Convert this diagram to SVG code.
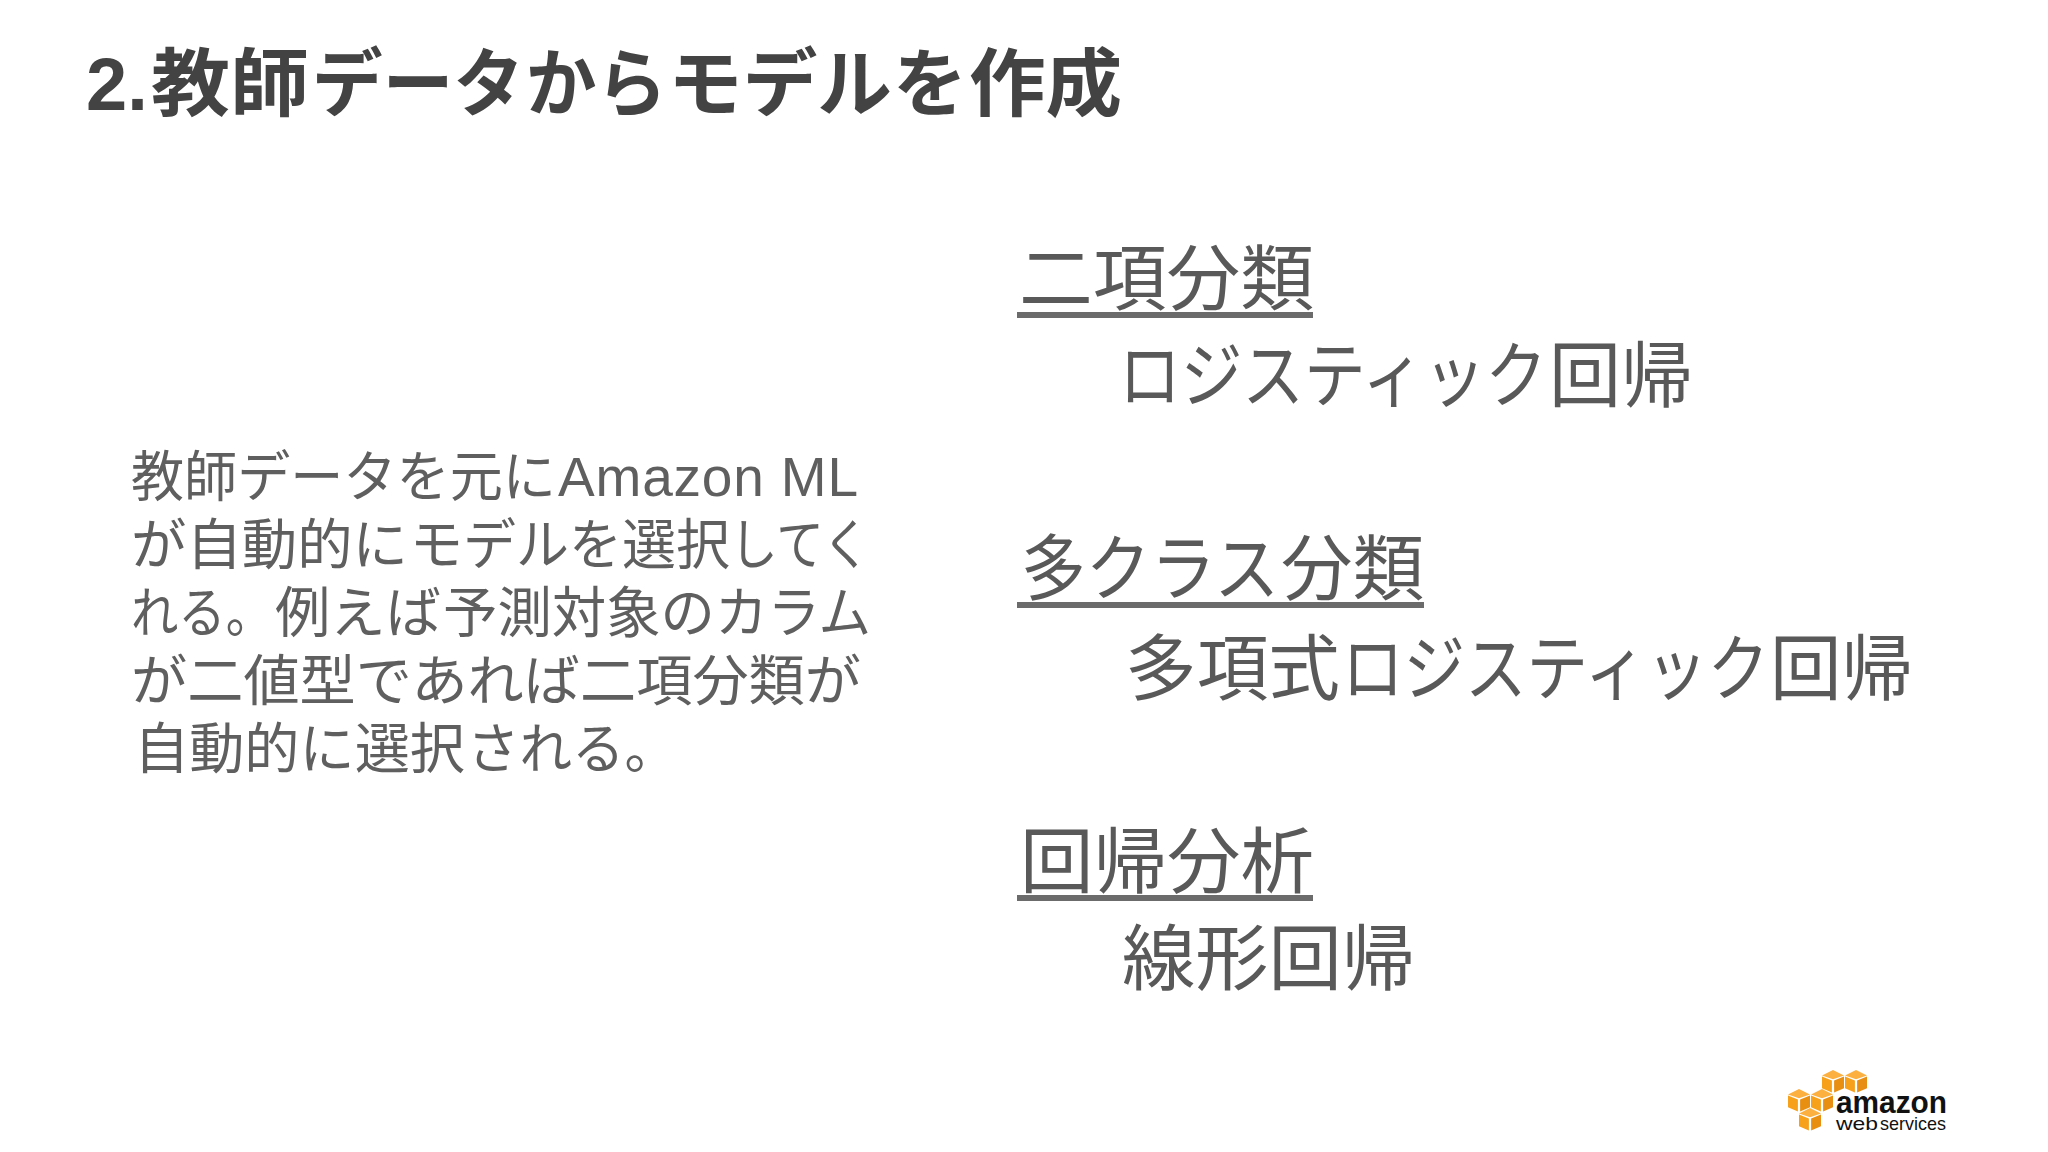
<svg xmlns="http://www.w3.org/2000/svg" width="2048" height="1152" viewBox="0 0 2048 1152">
<defs>
<style>
text{font-family:"Liberation Sans","Noto Sans CJK JP",sans-serif}
.title{font-size:74px;font-weight:700;fill:#434343}
.body{font-size:55px;fill:#5f5f5f}
.big{font-size:72px;fill:#595959}
.rule{fill:#6b6b6b}
.c1{fill:#f7a11a}.c2{fill:#fbb040}.c3{fill:#e88f12}
</style>
<g id="cube">
<polygon class="c2" points="0,10 20,0 40,10 20,17"/>
<polygon class="c1" points="0,12 18,19 18,41 0,33"/>
<polygon class="c3" points="22,19 40,12 40,33 22,41"/>
</g>
</defs>
<rect width="2048" height="1152" fill="#fff"/>
<text class="title" y="110"><tspan x="86">2.</tspan><tspan x="151" textLength="158" lengthAdjust="spacingAndGlyphs">教師</tspan><tspan x="312" textLength="212" lengthAdjust="spacingAndGlyphs">データ</tspan><tspan x="526" textLength="141" lengthAdjust="spacingAndGlyphs">から</tspan><tspan x="668" textLength="224" lengthAdjust="spacingAndGlyphs">モデル</tspan><tspan x="893" textLength="75">を</tspan><tspan x="969" textLength="153" lengthAdjust="spacingAndGlyphs">作成</tspan></text>
<g id="body-text">
<text class="body" y="496"><tspan x="131" textLength="425" lengthAdjust="spacingAndGlyphs">教師データを元に</tspan><tspan x="558" textLength="300">Amazon ML</tspan></text>
<text class="body" y="564"><tspan x="131" textLength="277" lengthAdjust="spacingAndGlyphs">が自動的に</tspan><tspan x="410" textLength="212" lengthAdjust="spacingAndGlyphs">モデルを</tspan><tspan x="622" textLength="108" lengthAdjust="spacingAndGlyphs">選択</tspan><tspan x="730" textLength="140" lengthAdjust="spacingAndGlyphs">してく</tspan></text>
<text class="body" y="632"><tspan x="131" textLength="142" lengthAdjust="spacingAndGlyphs">れる。</tspan><tspan x="275" textLength="166" lengthAdjust="spacingAndGlyphs">例えば</tspan><tspan x="443" textLength="272" lengthAdjust="spacingAndGlyphs">予測対象の</tspan><tspan x="715" textLength="156" lengthAdjust="spacingAndGlyphs">カラム</tspan></text>
<text class="body" x="131" y="700" textLength="730" lengthAdjust="spacingAndGlyphs">が二値型であれば二項分類が</text>
<text class="body" y="768"><tspan x="134" textLength="331" lengthAdjust="spacingAndGlyphs">自動的に選択</tspan><tspan x="467" textLength="210" lengthAdjust="spacingAndGlyphs">される。</tspan></text>
</g>
<g id="binary">
<text class="big" x="1019" y="304" textLength="295" lengthAdjust="spacingAndGlyphs">二項分類</text>
<rect class="rule" x="1017" y="312" width="296" height="6"/>
<text class="big" y="401"><tspan x="1119" textLength="428" lengthAdjust="spacingAndGlyphs">ロジスティック</tspan><tspan x="1549" textLength="144" lengthAdjust="spacingAndGlyphs">回帰</tspan></text>
</g>
<g id="multi">
<text class="big" y="594"><tspan x="1021" textLength="258" lengthAdjust="spacingAndGlyphs">多クラス</tspan><tspan x="1281" textLength="143" lengthAdjust="spacingAndGlyphs">分類</tspan></text>
<rect class="rule" x="1017" y="602" width="407" height="6"/>
<text class="big" y="694"><tspan x="1125" textLength="215" lengthAdjust="spacingAndGlyphs">多項式</tspan><tspan x="1342" textLength="427" lengthAdjust="spacingAndGlyphs">ロジスティック</tspan><tspan x="1770" textLength="143" lengthAdjust="spacingAndGlyphs">回帰</tspan></text>
</g>
<g id="regression">
<text class="big" x="1020" y="887" textLength="294" lengthAdjust="spacingAndGlyphs">回帰分析</text>
<rect class="rule" x="1017" y="895" width="296" height="6"/>
<text class="big" x="1122" y="984" textLength="293" lengthAdjust="spacingAndGlyphs">線形回帰</text>
</g>
<g id="logo">
<use href="#cube" transform="translate(1822,1070) scale(.55)"/>
<use href="#cube" transform="translate(1845,1070) scale(.55)"/>
<use href="#cube" transform="translate(1788,1089) scale(.55)"/>
<use href="#cube" transform="translate(1811,1089) scale(.55)"/>
<use href="#cube" transform="translate(1799,1108) scale(.55)"/>
<text x="1836" y="1113" font-size="32" font-weight="700" fill="#111" textLength="111" lengthAdjust="spacingAndGlyphs">amazon</text>
<text y="1130" font-size="19" fill="#111"><tspan x="1836" textLength="42" lengthAdjust="spacingAndGlyphs">web</tspan><tspan x="1880" textLength="66" lengthAdjust="spacingAndGlyphs">services</tspan></text>
</g>
</svg>
